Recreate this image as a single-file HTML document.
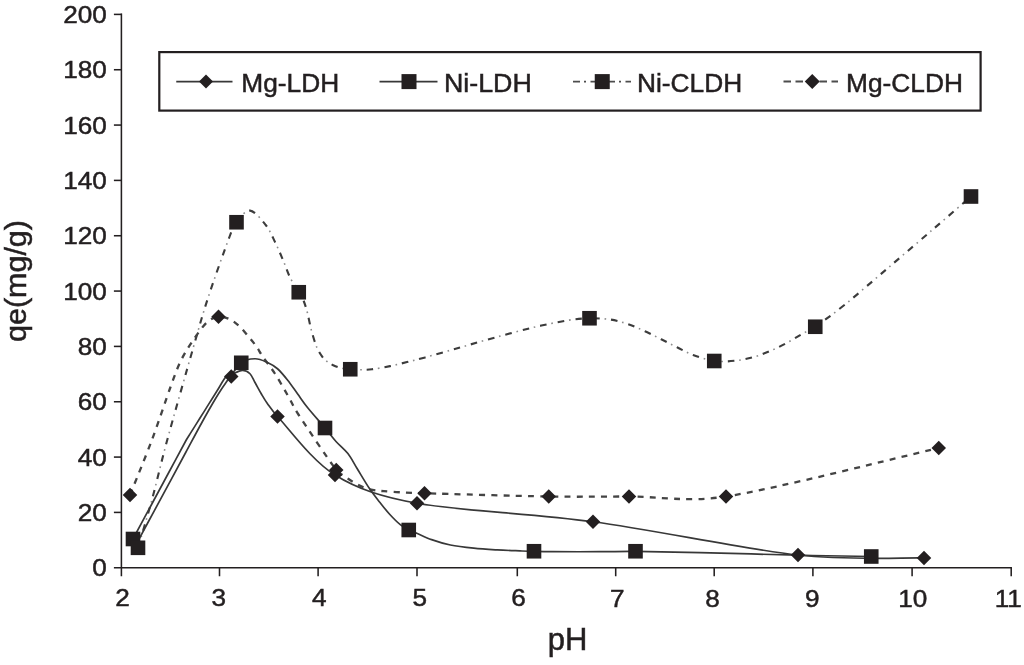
<!DOCTYPE html><html><head><meta charset="utf-8"><title>qe vs pH</title>
<style>html,body{margin:0;padding:0;background:#fff}svg{display:block}text{font-family:"Liberation Sans",sans-serif;fill:#231f20;stroke:#231f20;stroke-width:0.5px}</style></head><body>
<svg width="1024" height="665" viewBox="0 0 1024 665">
<rect width="100%" height="100%" fill="#fff"/>
<g stroke="#231f20" stroke-width="1.55" fill="none">
<path d="M121.40,13.50 V576.25"/>
<path d="M113.90,567.75 H1011.95"/>
<path d="M113.9,512.41 H121.75"/>
<path d="M113.9,457.08 H121.75"/>
<path d="M113.9,401.75 H121.75"/>
<path d="M113.9,346.41 H121.75"/>
<path d="M113.9,291.07 H121.75"/>
<path d="M113.9,235.74 H121.75"/>
<path d="M113.9,180.40 H121.75"/>
<path d="M113.9,125.07 H121.75"/>
<path d="M113.9,69.74 H121.75"/>
<path d="M113.9,14.40 H121.75"/>
<path d="M219.50,567.75 V576.25"/>
<path d="M318.10,567.75 V576.25"/>
<path d="M417.00,567.75 V576.25"/>
<path d="M517.30,567.75 V576.25"/>
<path d="M615.70,567.75 V576.25"/>
<path d="M714.20,567.75 V576.25"/>
<path d="M812.90,567.75 V576.25"/>
<path d="M912.10,567.75 V576.25"/>
<path d="M1011.20,567.75 V576.25"/>
</g>
<text transform="translate(106.9,576.25) scale(1.055,1)" font-size="24.8" text-anchor="end">0</text>
<text transform="translate(106.9,520.91) scale(1.055,1)" font-size="24.8" text-anchor="end">20</text>
<text transform="translate(106.9,465.58) scale(1.055,1)" font-size="24.8" text-anchor="end">40</text>
<text transform="translate(106.9,410.25) scale(1.055,1)" font-size="24.8" text-anchor="end">60</text>
<text transform="translate(106.9,354.91) scale(1.055,1)" font-size="24.8" text-anchor="end">80</text>
<text transform="translate(106.9,299.57) scale(1.055,1)" font-size="24.8" text-anchor="end">100</text>
<text transform="translate(106.9,244.24) scale(1.055,1)" font-size="24.8" text-anchor="end">120</text>
<text transform="translate(106.9,188.90) scale(1.055,1)" font-size="24.8" text-anchor="end">140</text>
<text transform="translate(106.9,133.57) scale(1.055,1)" font-size="24.8" text-anchor="end">160</text>
<text transform="translate(106.9,78.24) scale(1.055,1)" font-size="24.8" text-anchor="end">180</text>
<text transform="translate(106.9,22.90) scale(1.055,1)" font-size="24.8" text-anchor="end">200</text>
<text transform="translate(122.60,605.60) scale(1.055,1)" font-size="24.8" text-anchor="middle">2</text>
<text transform="translate(218.70,605.60) scale(1.055,1)" font-size="24.8" text-anchor="middle">3</text>
<text transform="translate(319.40,605.60) scale(1.055,1)" font-size="24.8" text-anchor="middle">4</text>
<text transform="translate(419.70,605.60) scale(1.055,1)" font-size="24.8" text-anchor="middle">5</text>
<text transform="translate(518.50,605.60) scale(1.055,1)" font-size="24.8" text-anchor="middle">6</text>
<text transform="translate(617.30,607.30) scale(1.055,1)" font-size="24.8" text-anchor="middle">7</text>
<text transform="translate(712.60,607.30) scale(1.055,1)" font-size="24.8" text-anchor="middle">8</text>
<text transform="translate(812.40,607.30) scale(1.055,1)" font-size="24.8" text-anchor="middle">9</text>
<text transform="translate(912.70,607.30) scale(1.055,1)" font-size="24.8" text-anchor="middle">10</text>
<text transform="translate(1008.30,607.30) scale(1.055,1)" font-size="24.8" text-anchor="middle">11</text>
<text x="567.5" y="650" font-size="31" text-anchor="middle">pH</text>
<text transform="translate(26.3,281) rotate(-90) scale(1.05,1)" font-size="29" text-anchor="middle">qe(mg/g)</text>
<path d="M138.00,547.80 C140.32,539.83 147.08,517.76 151.90,500.00 C156.72,482.24 160.55,464.66 166.90,441.25 C173.80,415.83 186.40,371.54 193.30,347.50 C199.11,327.25 202.22,315.58 208.30,297.00 C214.38,278.42 225.10,248.46 229.80,236.00 C231.96,230.28 233.13,226.48 236.50,222.25 C239.87,218.02 245.13,210.14 250.00,210.60 C254.87,211.06 261.53,219.77 265.70,225.00 C269.87,230.23 272.12,236.17 275.00,242.00 C277.88,247.83 280.50,254.10 283.00,260.00 C285.50,265.90 287.38,272.02 290.00,277.40 C292.62,282.77 296.50,288.40 298.75,292.25 C300.67,295.54 302.06,297.07 303.50,300.50 C304.94,303.93 306.10,307.88 307.40,312.80 C308.70,317.72 309.74,324.26 311.30,330.00 C312.86,335.74 314.93,342.82 316.75,347.25 C318.39,351.26 320.51,354.26 322.20,356.60 C323.76,358.76 325.07,359.87 326.90,361.30 C328.73,362.73 330.85,364.08 333.20,365.20 C335.55,366.32 338.16,367.30 341.00,368.00 C343.84,368.70 346.92,369.10 350.25,369.40 C353.58,369.70 357.38,369.82 361.00,369.80 C364.62,369.78 367.63,369.86 372.00,369.30 C376.83,368.68 384.17,367.30 390.00,366.10 C395.83,364.90 401.13,363.55 407.00,362.10 C412.87,360.65 417.95,359.40 425.20,357.40 C434.03,354.97 448.37,350.82 460.00,347.50 C471.63,344.18 482.92,340.82 495.00,337.50 C507.08,334.18 520.42,330.45 532.50,327.60 C544.58,324.75 558.00,321.96 567.50,320.40 C576.23,318.97 582.42,318.40 589.50,318.25 C596.58,318.10 603.67,318.56 610.00,319.50 C616.33,320.44 621.67,321.94 627.50,323.90 C633.33,325.86 639.38,328.68 645.00,331.25 C650.62,333.82 655.83,336.59 661.25,339.30 C666.67,342.01 672.08,344.85 677.50,347.50 C682.92,350.15 687.62,352.95 693.75,355.20 C699.88,357.45 707.38,360.07 714.25,361.00 C721.12,361.93 728.42,361.42 735.00,360.75 C741.58,360.08 747.71,358.71 753.75,357.00 C759.79,355.29 765.62,352.92 771.25,350.50 C776.88,348.08 782.29,345.29 787.50,342.50 C792.71,339.71 797.88,336.38 802.50,333.75 C807.12,331.12 810.46,330.06 815.25,326.75 C822.43,321.79 833.81,313.55 845.60,304.00 C858.04,293.93 875.13,278.92 889.90,266.30 C904.67,253.68 920.68,239.93 934.20,228.30 C947.72,216.67 964.87,201.80 971.00,196.50" fill="none" stroke="#3c3c3c" stroke-width="2.1" stroke-dasharray="6.6 11.3"/>
<path d="M138.00,547.80 C140.32,539.83 147.08,517.76 151.90,500.00 C156.72,482.24 160.55,464.66 166.90,441.25 C173.80,415.83 186.40,371.54 193.30,347.50 C199.11,327.25 202.22,315.58 208.30,297.00 C214.38,278.42 225.10,248.46 229.80,236.00 C231.96,230.28 233.13,226.48 236.50,222.25 C239.87,218.02 245.13,210.14 250.00,210.60 C254.87,211.06 261.53,219.77 265.70,225.00 C269.87,230.23 272.12,236.17 275.00,242.00 C277.88,247.83 280.50,254.10 283.00,260.00 C285.50,265.90 287.38,272.02 290.00,277.40 C292.62,282.77 296.50,288.40 298.75,292.25 C300.67,295.54 302.06,297.07 303.50,300.50 C304.94,303.93 306.10,307.88 307.40,312.80 C308.70,317.72 309.74,324.26 311.30,330.00 C312.86,335.74 314.93,342.82 316.75,347.25 C318.39,351.26 320.51,354.26 322.20,356.60 C323.76,358.76 325.07,359.87 326.90,361.30 C328.73,362.73 330.85,364.08 333.20,365.20 C335.55,366.32 338.16,367.30 341.00,368.00 C343.84,368.70 346.92,369.10 350.25,369.40 C353.58,369.70 357.38,369.82 361.00,369.80 C364.62,369.78 367.63,369.86 372.00,369.30 C376.83,368.68 384.17,367.30 390.00,366.10 C395.83,364.90 401.13,363.55 407.00,362.10 C412.87,360.65 417.95,359.40 425.20,357.40 C434.03,354.97 448.37,350.82 460.00,347.50 C471.63,344.18 482.92,340.82 495.00,337.50 C507.08,334.18 520.42,330.45 532.50,327.60 C544.58,324.75 558.00,321.96 567.50,320.40 C576.23,318.97 582.42,318.40 589.50,318.25 C596.58,318.10 603.67,318.56 610.00,319.50 C616.33,320.44 621.67,321.94 627.50,323.90 C633.33,325.86 639.38,328.68 645.00,331.25 C650.62,333.82 655.83,336.59 661.25,339.30 C666.67,342.01 672.08,344.85 677.50,347.50 C682.92,350.15 687.62,352.95 693.75,355.20 C699.88,357.45 707.38,360.07 714.25,361.00 C721.12,361.93 728.42,361.42 735.00,360.75 C741.58,360.08 747.71,358.71 753.75,357.00 C759.79,355.29 765.62,352.92 771.25,350.50 C776.88,348.08 782.29,345.29 787.50,342.50 C792.71,339.71 797.88,336.38 802.50,333.75 C807.12,331.12 810.46,330.06 815.25,326.75 C822.43,321.79 833.81,313.55 845.60,304.00 C858.04,293.93 875.13,278.92 889.90,266.30 C904.67,253.68 920.68,239.93 934.20,228.30 C947.72,216.67 964.87,201.80 971.00,196.50" fill="none" stroke="#8c8c8c" stroke-width="1.6" stroke-dasharray="1.6 16.3" stroke-dashoffset="-11.4"/>
<path d="M130.00,495.00 C133.65,485.83 145.15,458.00 151.90,440.00 C158.65,422.00 165.72,400.12 170.50,387.00 C174.29,376.60 176.93,368.88 180.60,361.25 C184.27,353.62 188.22,347.62 192.50,341.25 C196.78,334.88 201.98,327.11 206.25,323.00 C210.13,319.26 214.14,317.20 218.10,316.60 C222.06,316.00 226.35,317.68 230.00,319.40 C233.65,321.12 236.88,323.98 240.00,326.90 C243.12,329.82 246.04,333.67 248.75,336.90 C251.46,340.12 253.96,343.02 256.25,346.25 C258.54,349.48 259.84,352.35 262.50,356.25 C265.62,360.83 270.83,367.29 275.00,373.75 C279.17,380.21 283.54,388.12 287.50,395.00 C291.46,401.88 293.75,407.30 298.75,415.00 C306.88,427.50 328.38,459.63 336.25,470.00 C339.18,473.86 342.50,474.78 346.00,477.20 C349.50,479.62 353.28,482.48 357.25,484.50 C361.22,486.52 365.38,488.18 369.80,489.30 C374.23,490.42 378.17,490.69 383.80,491.20 C389.67,491.73 398.22,492.16 405.00,492.50 C411.78,492.84 416.70,493.03 424.50,493.25 C448.46,493.92 514.67,495.96 548.75,496.50 C580.85,497.01 599.46,496.50 629.00,496.50 C658.54,496.50 687.67,502.50 726.00,496.50 C777.62,488.42 903.29,456.08 938.75,448.00" fill="none" stroke="#444" stroke-width="2.3" stroke-dasharray="6 6.2"/>
<path d="M133.00,539.00 C135.96,533.50 144.83,517.00 150.75,506.00 C156.67,495.00 162.58,484.00 168.50,473.00 C174.42,462.00 182.50,446.77 186.25,440.00 C187.99,436.86 189.10,435.44 191.00,432.40 C193.24,428.82 196.80,423.15 199.70,418.52 C202.60,413.90 205.50,409.27 208.40,404.65 C211.30,400.02 214.20,395.40 217.10,390.77 C220.00,386.15 223.44,379.61 225.80,376.90 C227.36,375.10 229.03,375.36 231.25,374.50 C234.03,373.42 239.38,370.52 242.50,370.40 C245.62,370.27 247.92,371.73 250.00,373.75 C252.08,375.77 253.12,379.17 255.00,382.50 C256.88,385.83 259.17,390.21 261.25,393.75 C263.33,397.29 264.79,399.96 267.50,403.75 C270.21,407.54 273.04,411.79 277.50,416.50 C288.75,428.38 311.75,460.54 335.00,475.00 C358.25,489.46 382.86,497.06 417.00,503.25 C460.00,511.04 529.50,513.12 593.00,521.75 C656.50,530.38 742.83,548.96 798.00,555.00 C848.11,560.49 903.00,557.50 924.00,558.00" fill="none" stroke="#383838" stroke-width="1.7"/>
<path d="M138.20,540.60 C140.85,535.68 148.82,520.92 154.12,511.08 C159.43,501.23 164.74,491.39 170.05,481.55 C175.36,471.71 180.67,461.87 185.97,452.02 C191.28,442.18 197.06,431.25 201.90,422.50 C206.74,413.75 211.15,405.92 215.00,399.50 C218.80,393.17 220.71,390.00 225.00,384.00 C229.38,377.88 236.25,367.01 241.25,362.80 C245.64,359.11 250.62,358.80 255.00,358.75 C259.38,358.70 263.75,360.83 267.50,362.50 C271.25,364.17 274.17,365.83 277.50,368.75 C280.83,371.67 284.17,375.83 287.50,380.00 C290.83,384.17 294.17,389.17 297.50,393.75 C300.83,398.33 303.24,402.20 307.50,407.50 C312.08,413.21 320.25,422.33 325.00,428.00 C329.47,433.34 332.18,437.23 336.00,441.50 C339.82,445.77 344.36,449.05 347.90,453.60 C351.44,458.15 353.60,462.88 357.25,468.80 C360.90,474.72 366.01,483.48 369.80,489.10 C373.57,494.68 376.73,498.35 380.00,502.50 C383.27,506.65 386.02,510.30 389.40,514.00 C392.78,517.70 397.07,522.03 400.30,524.70 C403.37,527.24 406.01,528.58 408.75,530.00 C411.49,531.42 413.57,531.87 416.75,533.20 C420.56,534.80 425.99,537.63 431.60,539.60 C437.21,541.57 443.37,543.57 450.40,545.00 C457.43,546.43 465.98,547.38 473.80,548.20 C481.62,549.02 489.60,549.45 497.30,549.90 C505.00,550.35 513.88,550.65 520.00,550.90 C525.60,551.13 528.67,551.27 534.00,551.40 C539.33,551.53 544.80,551.67 552.00,551.70 C563.00,551.75 586.08,551.75 600.00,551.70 C613.92,551.65 621.30,551.27 635.50,551.40 C652.17,551.55 674.20,552.00 700.00,552.60 C727.08,553.23 769.46,554.55 798.00,555.20 C826.54,555.85 859.04,556.28 871.25,556.50" fill="none" stroke="#383838" stroke-width="1.7"/>
<rect x="125.70" y="531.70" width="14.60" height="14.60" fill="#231f20"/>
<rect x="229.20" y="214.95" width="14.60" height="14.60" fill="#231f20"/>
<rect x="291.45" y="284.95" width="14.60" height="14.60" fill="#231f20"/>
<rect x="342.95" y="361.95" width="14.60" height="14.60" fill="#231f20"/>
<rect x="582.20" y="310.95" width="14.60" height="14.60" fill="#231f20"/>
<rect x="706.95" y="353.70" width="14.60" height="14.60" fill="#231f20"/>
<rect x="807.95" y="319.45" width="14.60" height="14.60" fill="#231f20"/>
<rect x="963.70" y="189.20" width="14.60" height="14.60" fill="#231f20"/>
<rect x="130.70" y="540.50" width="14.60" height="14.60" fill="#231f20"/>
<rect x="233.95" y="355.50" width="14.60" height="14.60" fill="#231f20"/>
<rect x="317.70" y="420.70" width="14.60" height="14.60" fill="#231f20"/>
<rect x="401.45" y="522.70" width="14.60" height="14.60" fill="#231f20"/>
<rect x="526.70" y="543.95" width="14.60" height="14.60" fill="#231f20"/>
<rect x="628.20" y="543.95" width="14.60" height="14.60" fill="#231f20"/>
<rect x="863.95" y="549.20" width="14.60" height="14.60" fill="#231f20"/>
<path d="M130.00,487.75 L137.25,495.00 L130.00,502.25 L122.75,495.00 Z" fill="#231f20"/>
<path d="M218.50,309.50 L225.75,316.75 L218.50,324.00 L211.25,316.75 Z" fill="#231f20"/>
<path d="M336.25,462.75 L343.50,470.00 L336.25,477.25 L329.00,470.00 Z" fill="#231f20"/>
<path d="M424.50,486.00 L431.75,493.25 L424.50,500.50 L417.25,493.25 Z" fill="#231f20"/>
<path d="M548.75,489.25 L556.00,496.50 L548.75,503.75 L541.50,496.50 Z" fill="#231f20"/>
<path d="M629.00,489.25 L636.25,496.50 L629.00,503.75 L621.75,496.50 Z" fill="#231f20"/>
<path d="M726.00,489.25 L733.25,496.50 L726.00,503.75 L718.75,496.50 Z" fill="#231f20"/>
<path d="M938.75,440.75 L946.00,448.00 L938.75,455.25 L931.50,448.00 Z" fill="#231f20"/>
<path d="M231.25,369.35 L238.50,376.60 L231.25,383.85 L224.00,376.60 Z" fill="#231f20"/>
<path d="M277.50,409.25 L284.75,416.50 L277.50,423.75 L270.25,416.50 Z" fill="#231f20"/>
<path d="M335.00,467.75 L342.25,475.00 L335.00,482.25 L327.75,475.00 Z" fill="#231f20"/>
<path d="M417.00,496.00 L424.25,503.25 L417.00,510.50 L409.75,503.25 Z" fill="#231f20"/>
<path d="M593.00,514.50 L600.25,521.75 L593.00,529.00 L585.75,521.75 Z" fill="#231f20"/>
<path d="M798.00,547.75 L805.25,555.00 L798.00,562.25 L790.75,555.00 Z" fill="#231f20"/>
<path d="M924.00,550.75 L931.25,558.00 L924.00,565.25 L916.75,558.00 Z" fill="#231f20"/>
<rect x="159.3" y="52.1" width="821.30" height="58.50" fill="#fff" stroke="#231f20" stroke-width="2.2"/>
<path d="M176.25,81.60 H232.5" stroke="#383838" stroke-width="1.7"/>
<path d="M206.00,74.60 L213.00,81.60 L206.00,88.60 L199.00,81.60 Z" fill="#231f20"/>
<text x="241.3" y="91.7" font-size="26.3">Mg-LDH</text>
<path d="M379.5,81.60 H437.5" stroke="#383838" stroke-width="1.7"/>
<rect x="401.50" y="74.10" width="15.00" height="15.00" fill="#231f20"/>
<text transform="translate(443.9,91.7) scale(1.02,1)" font-size="26.3">Ni-LDH</text>
<path d="M573,81.60 H631" stroke="#4d4d4d" stroke-width="1.6" stroke-dasharray="7 4 2 4.5"/>
<rect x="594.75" y="74.10" width="15.00" height="15.00" fill="#231f20"/>
<text x="637" y="91.7" font-size="26.3">Ni-CLDH</text>
<path d="M783.5,81.60 H838" stroke="#4d4d4d" stroke-width="2" stroke-dasharray="7.5 4.5"/>
<path d="M812.25,74.10 L819.75,81.60 L812.25,89.10 L804.75,81.60 Z" fill="#231f20"/>
<text x="846" y="91.7" font-size="26.3">Mg-CLDH</text>
</svg></body></html>
